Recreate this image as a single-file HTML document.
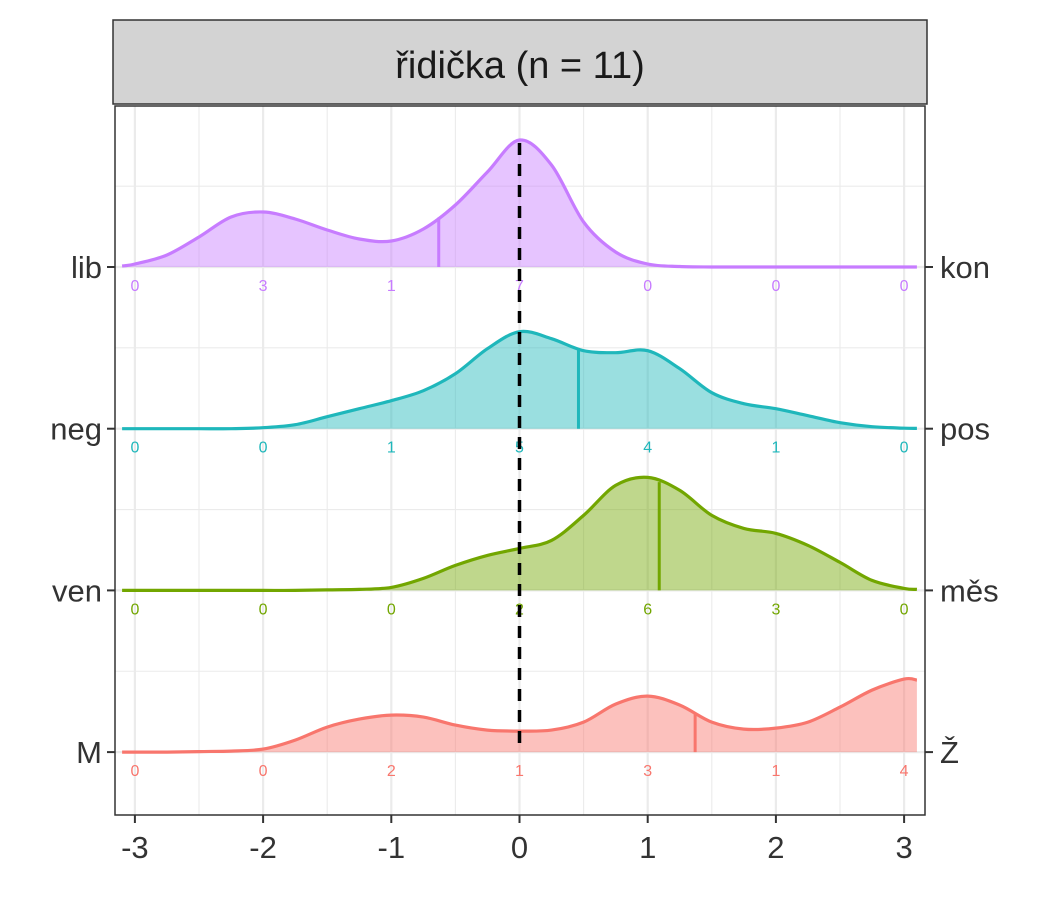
<!DOCTYPE html>
<html><head><meta charset="utf-8"><style>
body{margin:0;background:#fff;}
svg{display:block;font-family:"Liberation Sans",Arial,sans-serif;}
</style></head><body>
<svg id="chart" width="1050" height="900">
<rect x="0" y="0" width="1050" height="900" fill="#fff"/>
<rect x="113" y="20" width="814" height="84" fill="#d3d3d3" stroke="#333" stroke-width="1.5"/>
<text x="520" y="78" font-size="38" text-anchor="middle" fill="#1a1a1a">řidička (n = 11)</text>
<g id="grid"></g>
<g id="series"></g>
<rect x="115" y="106" width="810" height="709" fill="none" stroke="#333" stroke-width="1.5"/>
<g id="axes"></g>
</svg>
<script>
const xTicks = [-3,-2,-1,0,1,2,3];
const xTickLabels = ["-3","-2","-1","0","1","2","3"];
const leftLabels = ["lib","neg","ven","M"];
const rightLabels = ["kon","pos","měs","Ž"];
const colors = ["#C77CFF","#1FB7BB","#72A600","#F8766D"];
const gridX = [-3.1,-3,-2.75,-2.5,-2.25,-2,-1.75,-1.5,-1.25,-1,-0.75,-0.5,-0.25,0,0.25,0.5,0.75,1,1.25,1.5,1.75,2,2.25,2.5,2.75,3,3.1];
const densLib = [1,3,12,30,50,55,48,37,28,26,38,62,95,127,102,45,15,3,0.5,0,0,0,0,0,0,0,0];
const densNeg = [0,0,0,0,0,1,4,12,20,28,38,55,80,97,90,78,76,78,60,36,25,20,13,6,2,0.5,0.3];
const densVen = [0,0,0,0,0,0,0,0.5,1,3,12,25,35,42,50,75,105,113,100,75,62,57,45,28,10,2,1];
const densM = [0,0,0,0.5,1,3,12,25,33,37,35,27,22,21,22,30,48,56,47,30,23,24,30,45,62,73,72];
const medians = [-0.63,0.46,1.09,1.37];
const countsLib = [0,3,1,7,0,0,0];
const countsNeg = [0,0,1,5,4,1,0];
const countsVen = [0,0,0,2,6,3,0];
const countsM = [0,0,2,1,3,1,4];
const dens=[densLib,densNeg,densVen,densM];
const counts=[countsLib,countsNeg,countsVen,countsM];
const NS="http://www.w3.org/2000/svg";
const sx=v=>519.5+v*128.2;
const base=i=>267+i*161.7;
function mk(tag,attrs,parent){const e=document.createElementNS(NS,tag);for(const k in attrs)e.setAttribute(k,attrs[k]);parent.appendChild(e);return e;}
function smooth(pts){
  let p='M'+pts[0][0].toFixed(1)+','+pts[0][1].toFixed(1);
  for(let i=0;i<pts.length-1;i++){
    const p0=pts[Math.max(0,i-1)],p1=pts[i],p2=pts[i+1],p3=pts[Math.min(pts.length-1,i+2)];
    const c1=[p1[0]+(p2[0]-p0[0])/6,p1[1]+(p2[1]-p0[1])/6];
    const c2=[p2[0]-(p3[0]-p1[0])/6,p2[1]-(p3[1]-p1[1])/6];
    p+=' C'+c1[0].toFixed(1)+','+c1[1].toFixed(1)+' '+c2[0].toFixed(1)+','+c2[1].toFixed(1)+' '+p2[0].toFixed(1)+','+p2[1].toFixed(1);
  }
  return p;
}
const grid=document.getElementById('grid'),ser=document.getElementById('series'),ax=document.getElementById('axes');
for(let v=-3;v<=3;v+=0.5){const l=mk('line',{x1:sx(v),x2:sx(v),y1:106,y2:815,stroke:'#ebebeb','stroke-width':Number.isInteger(v)?2.2:1.1},grid);

}
for(let i=-0.5;i<=3.5;i+=0.5){const y=base(0)+i*161.7;if(y<106||y>815)continue;const l=mk('line',{x1:115,x2:925,y1:y,y2:y,stroke:'#ebebeb','stroke-width':Number.isInteger(i)?2.2:1.1},grid);

}
dens.forEach((d,i)=>{
  const b=base(i);
  const pts=gridX.map((x,j)=>[sx(x),b-d[j]]);
  const p=smooth(pts);
  const area=mk('path',{d:p+' L'+sx(3.1)+','+b+' L'+sx(-3.1)+','+b+' Z',fill:colors[i],'fill-opacity':0.45,stroke:'none'},ser);
  
  
  const line=mk('path',{d:p,fill:'none',stroke:colors[i],'stroke-width':3.2,'stroke-linejoin':'round'},ser);
  
  
  const m=medians[i];let k=0;while(k<gridX.length-2&&gridX[k+1]<m)k++;
  const t=(m-gridX[k])/(gridX[k+1]-gridX[k]);const h=d[k]+(d[k+1]-d[k])*t;
  const ml=mk('line',{x1:sx(m),x2:sx(m),y1:b,y2:b-h,stroke:colors[i],'stroke-width':3},ser);
  
  
  counts[i].forEach((c,j)=>{const t=mk('text',{x:sx(xTicks[j]),y:b+24,'font-size':16,'text-anchor':'middle',fill:colors[i]},ser);t.textContent=c;
  
  });
  const tl=mk('line',{x1:107,x2:115,y1:b,y2:b,stroke:'#333','stroke-width':2},ax);
  
  const tr=mk('line',{x1:925,x2:933,y1:b,y2:b,stroke:'#333','stroke-width':2},ax);
  
  const lt=mk('text',{x:102,y:b+11,'font-size':31,'text-anchor':'end',fill:'#333'},ax);lt.textContent=leftLabels[i];
  
  const rt=mk('text',{x:940,y:b+11,'font-size':31,'text-anchor':'start',fill:'#333'},ax);rt.textContent=rightLabels[i];
  
});
const dl=mk('line',{x1:sx(0),x2:sx(0),y1:143,y2:752,stroke:'#000','stroke-width':3.5,'stroke-dasharray':'12,9'},ser);

xTicks.forEach((v,j)=>{
  const tk=mk('line',{x1:sx(v),x2:sx(v),y1:815,y2:823,stroke:'#333','stroke-width':2},ax);
  
  const t=mk('text',{x:sx(v),y:858,'font-size':31,'text-anchor':'middle',fill:'#333'},ax);t.textContent=xTickLabels[j];
  
});
</script>
</body></html>
